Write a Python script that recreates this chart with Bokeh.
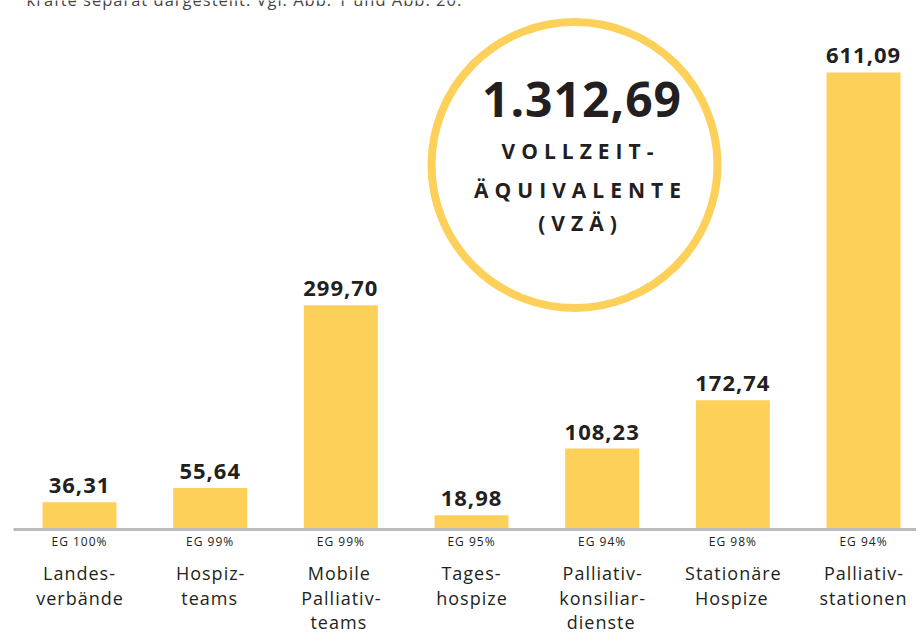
from bokeh.plotting import figure
from bokeh.layouts import column
from bokeh.models import ColumnDataSource, Label, Range1d
from bokeh.embed import file_html
from bokeh.resources import INLINE
from bokeh.core.properties import value

# ---- data ----
categories = ["Landes-\nverbände", "Hospiz-\nteams", "Mobile\nPalliativ-\nteams",
              "Tages-\nhospize", "Palliativ-\nkonsiliar-\ndienste",
              "Stationäre\nHospize", "Palliativ-\nstationen"]
values = [36.31, 55.64, 299.70, 18.98, 108.23, 172.74, 611.09]
value_labels = ["36,31", "55,64", "299,70", "18,98", "108,23", "172,74", "611,09"]
eg_labels = ["EG 100%", "EG 99%", "EG 99%", "EG 95%", "EG 94%", "EG 98%", "EG 94%"]
total_label = "1.312,69"
unit_lines = ["VOLLZEIT-", "ÄQUIVALENTE", "(VZÄ)"]
note = "kräfte separat dargestellt. Vgl. Abb. 1 und Abb. 20."

YELLOW = "#FDD05A"
DARK = "#231F20"
GRAY = "#BBBDBD"
FONT = "Open Sans"
LS_MAIN = 1.0    # letter spacing, main panel (px)
LS_BADGE = 6.0   # letter spacing, badge caption (px)

W, H = 916, 634
idx = list(range(len(values)))

# layout scale (pixels): bar centre spacing, px per unit, baseline position
X0, DX = 79.0, 130.67
Y0, DY = 529.0, 0.7479
x_start = (0 - X0) / DX
x_end = (W - X0) / DX
y_start = (Y0 - H) / DY
y_end = Y0 / DY

def dx(px):
    return (px - X0) / DX

def dy(py):
    return (Y0 - py) / DY

def shift(s, ls):
    # centred text grows to the right with CSS letter-spacing; recentre it
    longest = max(len(line) for line in s.split("\n"))
    return -longest * ls / 2.0

p = figure(width=W, height=H, output_backend="svg", toolbar_location=None,
           x_range=Range1d(x_start, x_end), y_range=Range1d(y_start, y_end),
           x_axis_type=None, y_axis_type=None, min_border=0)
p.min_border_left = p.min_border_right = p.min_border_top = p.min_border_bottom = 0
p.grid.visible = False
p.outline_line_color = None
p.background_fill_color = "white"
p.border_fill_color = "white"
p.styles = {"letter-spacing": f"{LS_MAIN}px"}

src = ColumnDataSource(dict(x=idx, top=values, vl=value_labels, eg=eg_labels,
                            cat=categories, zero=[0] * len(values),
                            vl_off=[shift(s, LS_MAIN) for s in value_labels],
                            eg_off=[shift(s, LS_MAIN) for s in eg_labels],
                            cat_off=[shift(s, LS_MAIN) + 0.5 for s in categories]))

p.vbar(x="x", top="top", bottom=0, width=74 / DX, source=src,
       fill_color=YELLOW, line_color=None)

# baseline
p.segment(x0=[dx(13)], y0=[0], x1=[x_end], y1=[0], line_color=GRAY, line_width=3)

p.text(x="x", y="top", text="vl", source=src, y_offset=-16.5, x_offset="vl_off",
       text_align="center", text_baseline="middle",
       text_font=value(FONT), text_font_style="bold", text_font_size="22px",
       text_color=DARK)

p.text(x="x", y="zero", text="eg", source=src, y_offset=12, x_offset="eg_off",
       text_align="center", text_baseline="middle",
       text_font=value(FONT), text_font_size="12px", text_color=DARK)

p.text(x="x", y="zero", text="cat", source=src, y_offset=31.6, x_offset="cat_off",
       text_align="center", text_baseline="top", text_line_height=1.02,
       text_font=value(FONT), text_font_size="18px", text_color=DARK)

# circle badge
p.scatter(x=[dx(574)], y=[dy(164.5)], size=286, marker="circle", fill_color=None,
          line_color=YELLOW, line_width=8)

def lab(fig, fh, text, px, py, size, ls, bold=True, color=DARK, align="center"):
    if align == "center":
        px = px + shift(text, ls)
    fig.add_layout(Label(x=px, y=fh - py, x_units="screen", y_units="screen",
                         text=text, text_align=align, text_baseline="middle",
                         text_font=FONT, text_font_size=size,
                         text_font_style="bold" if bold else "normal",
                         text_color=color))

lab(p, H, total_label, 581.5, 99, "48px", LS_MAIN)
lab(p, H, note, 26, -1.5, "16.5px", LS_MAIN, bold=False, color="#444444", align="left")

# overlay panel for the letter-spaced unit caption inside the badge
OX, OY, OW, OH = 440, 135, 290, 105
p2 = figure(width=OW, height=OH, output_backend="svg", toolbar_location=None,
            x_range=Range1d(0, OW), y_range=Range1d(0, OH),
            x_axis_type=None, y_axis_type=None, min_border=0)
p2.min_border_left = p2.min_border_right = p2.min_border_top = p2.min_border_bottom = 0
p2.grid.visible = False
p2.outline_line_color = None
p2.background_fill_color = None
p2.border_fill_color = None
p2.styles = {"letter-spacing": f"{LS_BADGE}px"}
p2.margin = (OY - H, 0, H - OY - OH, OX)

lab(p2, OH, unit_lines[0], 580 - OX, 150.5 - OY, "21px", LS_BADGE)
lab(p2, OH, unit_lines[1], 580 - OX, 189.5 - OY, "21px", LS_BADGE)
lab(p2, OH, unit_lines[2], 580 - OX, 222.5 - OY, "21px", LS_BADGE)

layout = column(p, p2, spacing=0)
open("out.html", "w").write(file_html(layout, INLINE))
